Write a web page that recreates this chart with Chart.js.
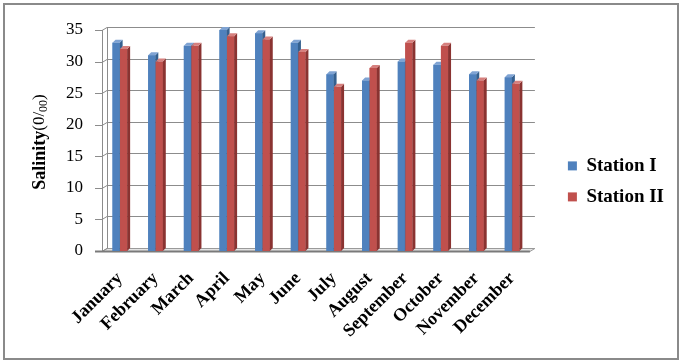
<!DOCTYPE html>
<html>
<head>
<meta charset="utf-8">
<script src="https://cdn.jsdelivr.net/npm/chart.js@4.4.0/dist/chart.umd.min.js"></script>
<style>
  html, body { margin: 0; padding: 0; background: #fff; }
  #wrap { width: 682px; height: 363px; position: relative; }
</style>
</head>
<body>
<div id="wrap"><canvas id="chart"></canvas></div>
<script>
// Monthly salinity (0/00)
const months = ['January', 'February', 'March', 'April', 'May', 'June',
    'July', 'August', 'September', 'October', 'November', 'December'];
const stationI = [33, 31, 32.5, 35, 34.5, 33, 28, 27, 30, 29.5, 28, 27.5];
const stationII = [32, 30, 32.5, 34, 33.5, 31.5, 26, 29, 33, 32.5, 27, 26.5];
const seriesNames = ['Station I', 'Station II'];

const SERIF = '"Liberation Serif", "Times New Roman", serif';

// face / side / top colours for the fake 3D bars
const shades = [
    { face: '#4F81BD', side: '#35608F', top: '#7FA3D3' },
    { face: '#C0504D', side: '#8A3331', top: '#D6807E' }
];

// depth of the back wall and of each bar
const DX = 5, DY = 3, BD = 3;

const look3d = {
    id: 'look3d',
    beforeDraw(chart) {
        const ctx = chart.ctx;
        ctx.save();
        ctx.strokeStyle = '#8a8a8a';
        ctx.lineWidth = 2;
        ctx.strokeRect(4, 4, 674, 355);
        ctx.restore();
    },
    beforeDatasetsDraw(chart) {
        const { ctx, chartArea: a, scales: { y } } = chart;
        const base = Math.round(y.getPixelForValue(0)) + 0.5;
        ctx.save();
        // floor
        ctx.fillStyle = '#e4e4e4';
        ctx.strokeStyle = '#9a9a9a';
        ctx.lineWidth = 1;
        ctx.beginPath();
        ctx.moveTo(a.left, base);
        ctx.lineTo(a.left + DX, base - DY);
        ctx.lineTo(a.right + DX, base - DY);
        ctx.lineTo(a.right, base);
        ctx.closePath();
        ctx.fill();
        ctx.stroke();
        // grid lines on the back wall
        ctx.strokeStyle = '#8c8c8c';
        y.ticks.forEach(t => {
            const py = Math.round(y.getPixelForValue(t.value)) + 0.5;
            ctx.beginPath();
            ctx.moveTo(a.left - 7, py);
            ctx.lineTo(a.left, py);
            ctx.lineTo(a.left + DX, py - DY);
            if (t.value !== 0) ctx.lineTo(a.right + DX, py - DY);
            ctx.stroke();
        });
        // side wall edges
        const topPx = y.getPixelForValue(35);
        ctx.beginPath();
        ctx.moveTo(a.left + 0.5, topPx);
        ctx.lineTo(a.left + 0.5, base);
        ctx.moveTo(a.left + DX + 0.5, topPx - DY);
        ctx.lineTo(a.left + DX + 0.5, base - DY);
        ctx.stroke();
        // front edge of the floor
        ctx.strokeStyle = '#7a7a7a';
        ctx.lineWidth = 2;
        ctx.beginPath();
        ctx.moveTo(a.left - 7, base);
        ctx.lineTo(a.right, base);
        ctx.stroke();
        ctx.restore();
    },
    afterDatasetsDraw(chart) {
        // repaint bars left to right so each one hides its neighbour's side
        const ctx = chart.ctx;
        ctx.save();
        chart.data.datasets.forEach((ds, i) => {
            const sh = shades[i];
            chart.getDatasetMeta(i).data.forEach(bar => {
                const { x, y, base, width } = bar.getProps(['x', 'y', 'base', 'width'], true);
                const l = x - width / 2, r = x + width / 2;
                ctx.fillStyle = sh.face;
                ctx.fillRect(l, y, width, base - y);
                ctx.fillStyle = sh.side;
                ctx.beginPath();
                ctx.moveTo(r, y);
                ctx.lineTo(r + BD, y - BD);
                ctx.lineTo(r + BD, base - BD);
                ctx.lineTo(r, base);
                ctx.closePath();
                ctx.fill();
                ctx.fillStyle = sh.top;
                ctx.beginPath();
                ctx.moveTo(l, y);
                ctx.lineTo(l + BD, y - BD);
                ctx.lineTo(r + BD, y - BD);
                ctx.lineTo(r, y);
                ctx.closePath();
                ctx.fill();
            });
        });
        ctx.restore();
    },
    afterDraw(chart) {
        // y axis title with the 00 subscript
        const ctx = chart.ctx;
        ctx.save();
        ctx.translate(40, 142);
        ctx.rotate(-Math.PI / 2);
        ctx.fillStyle = '#000';
        ctx.textBaseline = 'middle';
        const big = 'bold 18px ' + SERIF;
        const mid = '17px ' + SERIF;
        const small = '12px ' + SERIF;
        const partA = 'Salinity', partB = '(0/', partC = '00', partD = ')';
        ctx.font = big;
        const wA = ctx.measureText(partA).width;
        ctx.font = mid;
        const wB = ctx.measureText(partB).width;
        const wD = ctx.measureText(partD).width;
        ctx.font = small;
        const wC = ctx.measureText(partC).width;
        let cx = -(wA + wB + wC + wD) / 2;
        ctx.font = big;
        ctx.fillText(partA, cx, 0); cx += wA;
        ctx.font = mid;
        ctx.fillText(partB, cx, 0); cx += wB;
        ctx.font = small;
        ctx.fillText(partC, cx, 4); cx += wC;
        ctx.font = mid;
        ctx.fillText(partD, cx, 0);
        ctx.restore();
    }
};

new Chart(document.getElementById('chart'), {
    type: 'bar',
    data: {
        labels: months,
        datasets: [
            {
                label: seriesNames[0],
                data: stationI,
                backgroundColor: shades[0].face,
                borderWidth: 0,
                categoryPercentage: 0.42,
                barPercentage: 0.95
            },
            {
                label: seriesNames[1],
                data: stationII,
                backgroundColor: shades[1].face,
                borderWidth: 0,
                categoryPercentage: 0.42,
                barPercentage: 0.95
            }
        ]
    },
    options: {
        responsive: true,
        maintainAspectRatio: false,
        animation: false,
        layout: { padding: { left: 50, top: 30, right: 8, bottom: 0 } },
        plugins: {
            tooltip: { enabled: false },
            legend: {
                position: 'right',
                align: 'start',
                maxWidth: 160,
                // empty title only pushes the entries down
                title: { display: true, text: '', padding: { top: 100, bottom: 0 } },
                labels: {
                    color: '#000',
                    boxWidth: 9,
                    boxHeight: 9,
                    padding: 12,
                    font: { family: SERIF, size: 19, weight: 'bold' }
                }
            }
        },
        scales: {
            x: {
                grid: { display: false, drawTicks: false },
                border: { display: false },
                ticks: {
                    color: '#000',
                    maxRotation: 45,
                    minRotation: 45,
                    padding: 17,
                    autoSkip: false,
                    font: { family: SERIF, size: 18, weight: 'bold' }
                },
                afterFit(scale) { scale.height = 112; }
            },
            y: {
                min: 0,
                max: 35,
                grid: { display: false, drawTicks: false },
                border: { display: false },
                ticks: {
                    stepSize: 5,
                    color: '#000',
                    padding: 19,
                    font: { family: SERIF, size: 17 }
                },
                afterFit(scale) { scale.width = 52; }
            },
            // empty spacer between plot and legend
            gap: {
                position: 'right',
                grid: { display: false, drawTicks: false },
                border: { display: false },
                ticks: { display: false },
                afterFit(scale) { scale.width = 26; }
            }
        }
    },
    plugins: [look3d]
});
</script>
</body>
</html>
